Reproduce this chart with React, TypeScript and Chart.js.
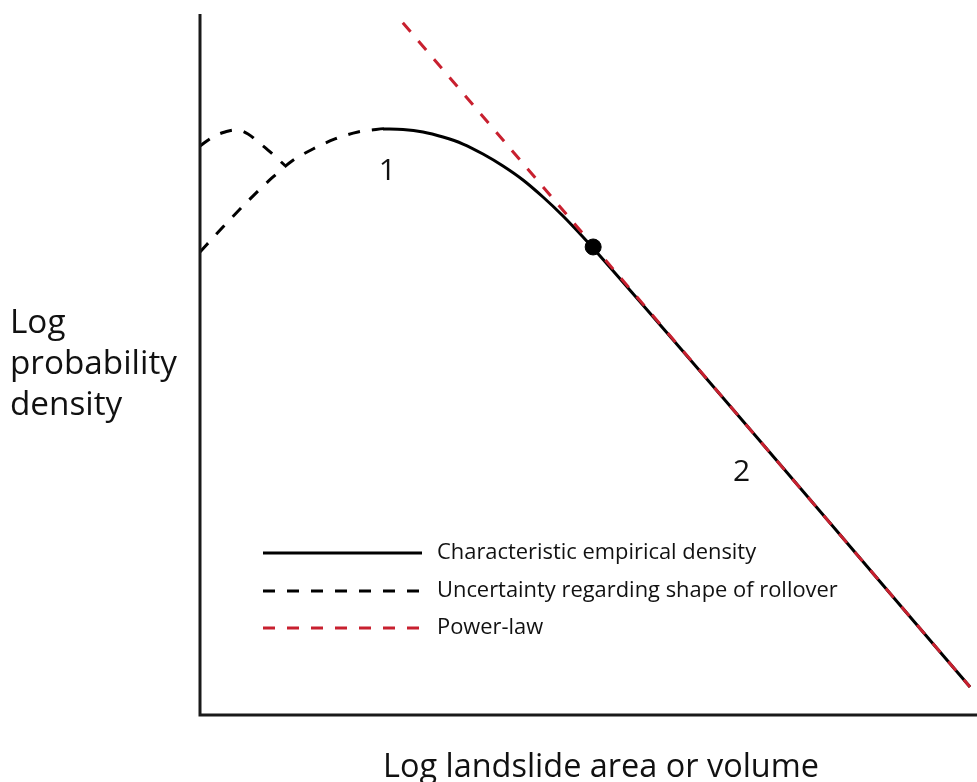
import React, { useEffect, useRef } from "react";
import { Chart, registerables } from "chart.js";

Chart.register(...registerables);

// Data in abstract log units (x: 0..10, y: 0..10)
const empiricalX = [2.355, 2.613, 2.87, 3.127, 3.385, 3.642, 3.9, 4.157, 4.414, 4.672, 4.929, 5.058, 9.91];
const empiricalY = [8.371, 8.364, 8.329, 8.257, 8.157, 8.014, 7.843, 7.643, 7.4, 7.129, 6.829, 6.671, 0.4];

const rolloverAX = [0, 0.283, 0.605, 0.94, 1.184, 1.454, 1.737, 2.033, 2.381];
const rolloverAY = [6.614, 6.957, 7.329, 7.686, 7.914, 8.086, 8.229, 8.329, 8.379];

const rolloverBX = [0, 0.167, 0.322, 0.476, 0.618, 0.746, 0.875, 1.094];
const rolloverBY = [8.129, 8.257, 8.329, 8.357, 8.3, 8.186, 8.071, 7.85];

const powerLawX = [2.61, 9.91];
const powerLawY = [9.89, 0.4];

const breakX = [5.06];
const breakY = [6.686];

const legendLabels = [
  "Characteristic empirical density",
  "Uncertainty regarding shape of rollover",
  "Power-law",
];
const yTitleLines = ["Log", "probability", "density"];
const xTitle = "Log landslide area or volume";
const regionLabels = ["1", "2"];
const regionLabelX = [2.41, 6.97];
const regionLabelY = [7.77, 3.47];

const FONT = '"Open Sans", "DejaVu Sans", sans-serif';

const zip = (xs: number[], ys: number[]) => xs.map((x, i) => ({ x, y: ys[i] }));

function fitFont(ctx: CanvasRenderingContext2D, text: string, width: number) {
  ctx.font = `100px ${FONT}`;
  const w = ctx.measureText(text).width;
  return (100 * width) / w;
}

const decorPlugin = {
  id: "decor",
  afterDraw(chart: any) {
    const ctx: CanvasRenderingContext2D = chart.ctx;
    const { left, right, top, bottom } = chart.chartArea;
    const xs = chart.scales.x;
    const ys = chart.scales.y;
    ctx.save();
    // axes
    ctx.strokeStyle = "#1a1a1a";
    ctx.lineWidth = 3;
    ctx.beginPath();
    ctx.moveTo(left, top - 1);
    ctx.lineTo(left, bottom);
    ctx.lineTo(right, bottom);
    ctx.stroke();

    ctx.fillStyle = "#111";
    // y title
    const ySize = fitFont(ctx, yTitleLines[1], 167);
    ctx.font = `${ySize}px ${FONT}`;
    ctx.textAlign = "left";
    ctx.textBaseline = "alphabetic";
    yTitleLines.forEach((t, i) => ctx.fillText(t, 10, 333 + i * 41));

    // x title
    const xSize = fitFont(ctx, xTitle, 436);
    ctx.font = `${xSize}px ${FONT}`;
    ctx.textAlign = "center";
    ctx.fillText(xTitle, 601, 777);

    // region labels
    ctx.font = `30px ${FONT}`;
    ctx.textBaseline = "middle";
    regionLabels.forEach((t, i) => {
      ctx.fillText(t, xs.getPixelForValue(regionLabelX[i]), ys.getPixelForValue(regionLabelY[i]));
    });

    // legend
    const lSize = fitFont(ctx, legendLabels[1], 401);
    const ds = chart.data.datasets;
    const legendDs = [ds[1], ds[2], ds[0]];
    const legendYs = [553, 591, 628];
    legendLabels.forEach((t, i) => {
      const y = legendYs[i];
      const d = legendDs[i];
      ctx.strokeStyle = d.borderColor;
      ctx.lineWidth = d.borderWidth;
      ctx.setLineDash(d.borderDash || []);
      ctx.beginPath();
      ctx.moveTo(263, y);
      ctx.lineTo(422, y);
      ctx.stroke();
      ctx.setLineDash([]);
      ctx.fillStyle = "#111";
      ctx.font = `${lSize}px ${FONT}`;
      ctx.textAlign = "left";
      ctx.textBaseline = "middle";
      ctx.fillText(t, 437, y);
    });
    ctx.restore();
  },
};

export default function App() {
  const ref = useRef<HTMLCanvasElement | null>(null);
  useEffect(() => {
    if (!ref.current) return;
    const chart = new Chart(ref.current, {
      type: "scatter",
      data: {
        datasets: [
          {
            label: "Power-law",
            data: zip(powerLawX, powerLawY),
            showLine: true,
            borderColor: "#c8202f",
            borderWidth: 3,
            borderDash: [12, 12],
            pointRadius: 0,
            order: 0,
          },
          {
            label: "Characteristic empirical density",
            data: zip(empiricalX, empiricalY),
            showLine: true,
            borderColor: "#000",
            borderWidth: 3,
            cubicInterpolationMode: "monotone",
            pointRadius: 0,
            order: 1,
          },
          {
            label: "Uncertainty regarding shape of rollover",
            data: zip(rolloverAX, rolloverAY),
            showLine: true,
            borderColor: "#000",
            borderWidth: 3,
            borderDash: [12, 12],
            cubicInterpolationMode: "monotone",
            pointRadius: 0,
            order: 1,
          },
          {
            label: "rollover-b",
            data: zip(rolloverBX, rolloverBY),
            showLine: true,
            borderColor: "#000",
            borderWidth: 3,
            borderDash: [12, 12],
            tension: 0.4,
            pointRadius: 0,
            order: 1,
          },
          {
            label: "break",
            data: zip(breakX, breakY),
            showLine: false,
            backgroundColor: "#000",
            borderColor: "#000",
            pointRadius: 8,
            order: -1,
          },
        ],
      },
      options: {
        animation: false,
        responsive: false,
        layout: { autoPadding: false, padding: { left: 200, right: 0, top: 15, bottom: 67 } },
        plugins: { legend: { display: false }, tooltip: { enabled: false } },
        scales: {
          x: { type: "linear", min: 0, max: 10, display: false },
          y: { type: "linear", min: 0, max: 10, display: false },
        },
      } as any,
      plugins: [decorPlugin],
    });
    return () => chart.destroy();
  }, []);
  return (
    <div style={{ position: "absolute", left: 0, top: 0, width: 977, height: 782, background: "#fff" }}>
      <canvas ref={ref} width={977} height={782} style={{ display: "block" }} />
    </div>
  );
}
